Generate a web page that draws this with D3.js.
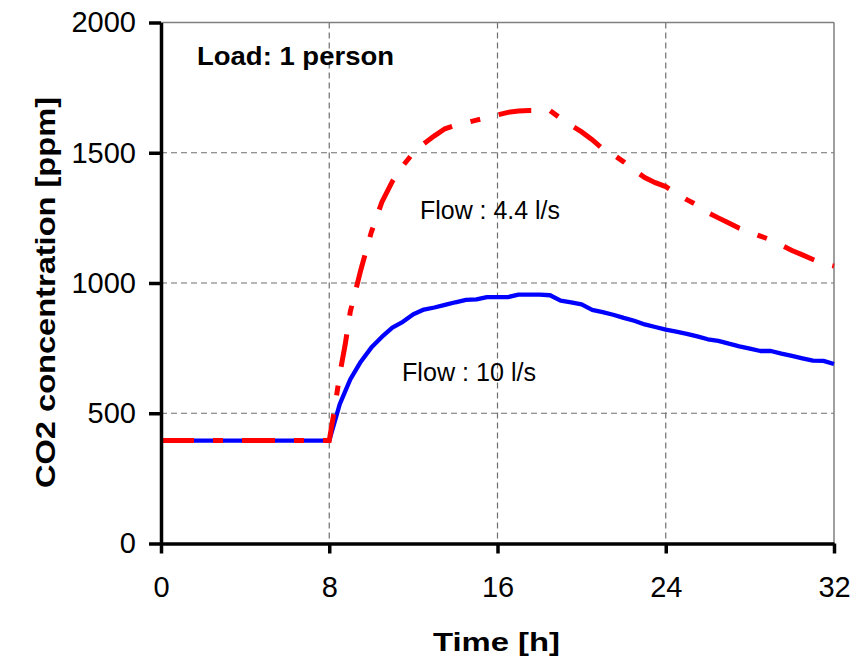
<!DOCTYPE html>
<html>
<head>
<meta charset="utf-8">
<script src="https://cdn.jsdelivr.net/npm/d3@7"></script>
<style>
  html, body { margin: 0; padding: 0; background: #fff; }
  svg { display: block; font-family: "Liberation Sans", Arial, sans-serif; }
</style>
</head>
<body>
<svg id="chart" width="861" height="661"></svg>
<script>
// ---- Data ----
const xTicks = [0, 8, 16, 24, 32];
const yTicks = [0, 500, 1000, 1500, 2000];

// Flow 10 l/s (blue, solid)
const blueHours = [0, 8, 8.5, 9, 9.5, 10, 10.5, 11, 11.5, 12, 12.5, 13, 13.5, 14, 14.5, 15, 15.5, 16, 16.5, 17, 17.5, 18, 18.5, 19, 19.5, 20, 20.5, 21, 21.5, 22, 22.5, 23, 23.5, 24, 24.5, 25, 25.5, 26, 26.5, 27, 27.5, 28, 28.5, 29, 29.5, 30, 30.5, 31, 31.5, 32];
const blueValues = [395, 395, 535, 630, 698, 752, 793, 829, 851, 880, 898, 906, 916, 926, 935, 937, 946, 946, 946, 955, 955, 955, 953, 932, 926, 918, 897, 888, 878, 866, 855, 841, 831, 821, 813, 805, 795, 784, 778, 767, 757, 748, 739, 739, 729, 720, 711, 702, 701, 689];

// Flow 4.4 l/s (red, dash-dot)
const redHours = [0, 8, 8.25, 8.5, 8.75, 9, 9.5, 10, 10.5, 11, 11.5, 12, 12.5, 13, 13.5, 14, 14.5, 15, 15.5, 16, 16.5, 17, 17.5, 18, 18.5, 19, 19.5, 20, 20.5, 21, 21.5, 22, 22.5, 23, 23.5, 24, 24.5, 25, 25.5, 26, 26.5, 27, 27.5, 28, 28.5, 29, 29.5, 30, 30.5, 31, 31.5, 32];
const redValues = [395, 395, 515, 650, 760, 890, 1050, 1195, 1310, 1390, 1450, 1500, 1535, 1565, 1592, 1605, 1615, 1625, 1635, 1645, 1655, 1660, 1662, 1662, 1662, 1632, 1605, 1580, 1550, 1515, 1493, 1465, 1433, 1405, 1385, 1370, 1345, 1320, 1299, 1270, 1250, 1230, 1210, 1195, 1180, 1165, 1145, 1125, 1108, 1090, 1074, 1065];

const labelLoad = "Load: 1 person";
const labelRed = "Flow : 4.4 l/s";
const labelBlue = "Flow : 10 l/s";
const xTitle = "Time [h]";
const yTitle = "CO2 concentration [ppm]";

// ---- Layout ----
const svg = d3.select("#chart");
const mLeft = 161, mRight = 834, mTop = 22.5, mBottom = 543.5;
const x = d3.scaleLinear().domain([0, 32]).range([mLeft, mRight]);
const y = d3.scaleLinear().domain([0, 2000]).range([mBottom, mTop]);

// gridlines
const grid = svg.append("g").attr("stroke", "#6f6f6f").attr("stroke-width", 1.2).attr("stroke-dasharray", "6,4");
grid.selectAll("line.h").data(yTicks.filter(d => d > 0 && d < 2000)).join("line").attr("class", "h")
  .attr("x1", mLeft).attr("x2", mRight).attr("y1", d => y(d)).attr("y2", d => y(d));
grid.selectAll("line.v").data(xTicks.filter(d => d > 0 && d < 32)).join("line").attr("class", "v")
  .attr("y1", mTop).attr("y2", mBottom).attr("x1", d => x(d)).attr("x2", d => x(d));

// top/right border
svg.append("line").attr("x1", mLeft).attr("x2", mRight).attr("y1", mTop).attr("y2", mTop).attr("stroke", "#7f7f7f").attr("stroke-width", 1.5);
svg.append("line").attr("x1", mRight).attr("x2", mRight).attr("y1", mTop).attr("y2", mBottom).attr("stroke", "#7f7f7f").attr("stroke-width", 1.5);

// lines
const blueData = blueHours.map((h, i) => [h, blueValues[i]]);
const redData = redHours.map((h, i) => [h, redValues[i]]);
const line = d3.line().x(d => x(d[0])).y(d => y(d[1]));

svg.append("path").attr("d", line(blueData)).attr("fill", "none")
  .attr("stroke", "#0000ff").attr("stroke-width", 4.3).attr("stroke-linejoin", "round");
svg.append("path").attr("d", line(redData)).attr("fill", "none")
  .attr("stroke", "#ff0000").attr("stroke-width", 5).attr("stroke-dasharray", "33,19,10,19");

// axes
const yAxis = d3.axisLeft(y).tickValues(yTicks).tickSize(12).tickSizeOuter(0).tickPadding(13).tickFormat(d3.format("d"));
const gy = svg.append("g").attr("transform", `translate(${mLeft},0)`).call(yAxis);
const xAxis = d3.axisBottom(x).tickValues(xTicks).tickSize(10).tickSizeOuter(0).tickPadding(23).tickFormat(d3.format("d"));
const gx = svg.append("g").attr("transform", `translate(0,${mBottom})`).call(xAxis);
[gx, gy].forEach(g => {
  g.select(".domain").attr("stroke", "#000").attr("stroke-width", 3.5);
  g.selectAll(".tick line").attr("stroke", "#000").attr("stroke-width", 3.5);
  g.selectAll(".tick text").attr("font-size", 29).attr("fill", "#000")
    .attr("font-family", "'Liberation Sans', Arial, sans-serif");
});

// titles
svg.append("text").attr("x", 496.5).attr("y", 651).attr("text-anchor", "middle")
  .attr("font-size", 25).attr("font-weight", "bold")
  .attr("textLength", 127).attr("lengthAdjust", "spacingAndGlyphs").text(xTitle);
svg.append("text").attr("transform", "translate(55,292.5) rotate(-90)").attr("text-anchor", "middle")
  .attr("font-size", 28).attr("font-weight", "bold")
  .attr("textLength", 391).attr("lengthAdjust", "spacingAndGlyphs").text(yTitle);

// annotations
svg.append("text").attr("x", 197).attr("y", 65).attr("font-size", 26).attr("font-weight", "bold")
  .attr("textLength", 197).attr("lengthAdjust", "spacingAndGlyphs").text(labelLoad);
svg.append("text").attr("x", 420).attr("y", 219).attr("font-size", 26)
  .attr("textLength", 140).attr("lengthAdjust", "spacingAndGlyphs").text(labelRed);
svg.append("text").attr("x", 402).attr("y", 381).attr("font-size", 26)
  .attr("textLength", 134).attr("lengthAdjust", "spacingAndGlyphs").text(labelBlue);
</script>
</body>
</html>
